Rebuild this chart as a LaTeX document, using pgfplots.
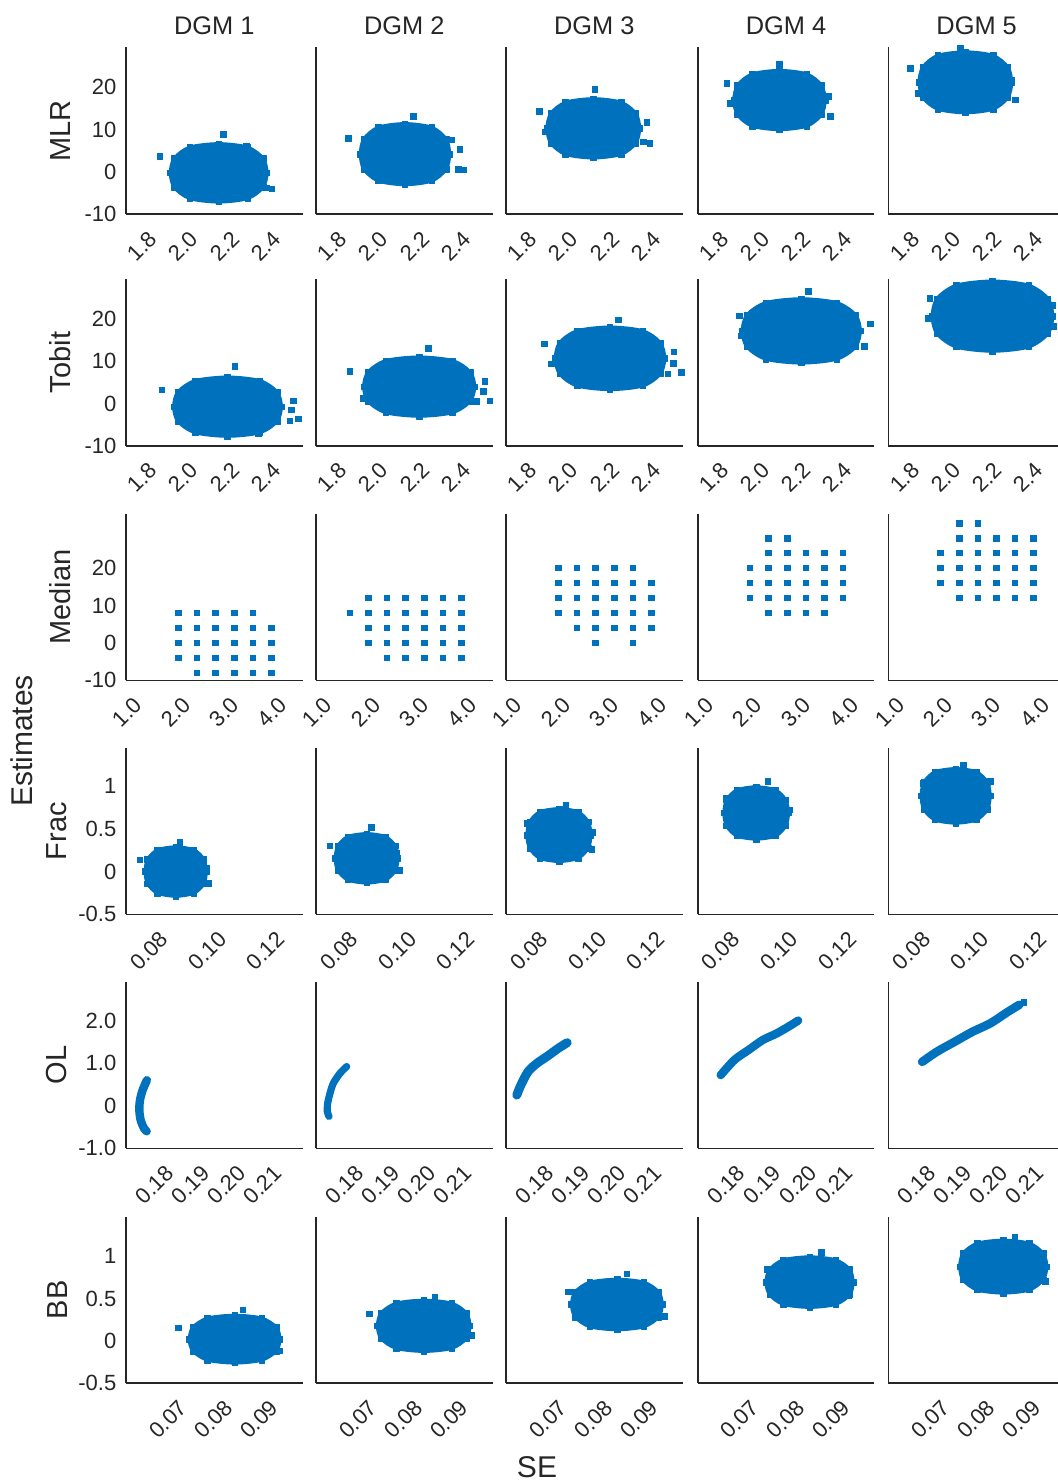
\documentclass[border=0pt]{standalone}
\usepackage{fontspec}
\setmainfont{Liberation Sans}
\usepackage{pgfplots}
\pgfplotsset{compat=1.18}

\definecolor{mblue}{RGB}{0,114,189}
\definecolor{axgray}{RGB}{38,38,38}

\newcommand\ticksize{\fontsize{11}{13}\selectfont}
\newcommand\labsize{\fontsize{14.5}{17}\selectfont}
\newcommand\titlesize{\fontsize{12.7}{15}\selectfont}
\newcommand\bigsize{\fontsize{15}{18}\selectfont}

\pgfplotsset{
  panel/.style={
    scale only axis, width=88.35pt, height=83.25pt,
    anchor=south west,
    axis lines*=left,
    axis line style={draw=axgray, line width=0.8pt, -},
    major tick length=0pt, tick style={draw=none},
    scaled ticks=false,
    clip=false,
    ticklabel style={font=\ticksize, text=axgray},
    xticklabel style={xshift=-1.5pt, yshift=-7.5pt, inner sep=0pt, anchor=north east, rotate=45},
    yticklabel style={inner sep=0pt, anchor=east, xshift=-4.65pt},
    ylabel style={font=\labsize, text=axgray, inner sep=0pt, anchor=south},
    every axis title shift=0pt,
    title style={font=\titlesize, text=axgray, inner sep=0pt, anchor=base, yshift=0pt,
                 at={(axis description cs:0.5,1.076)}},
  },
  rMLR/.style={panel, xmin=1.68, xmax=2.54, ymin=-10, ymax=29.45,
    xtick={1.8,2.0,2.2,2.4}, xticklabels={1.8,2.0,2.2,2.4}},
  rMed/.style={panel, xmin=0.80, xmax=4.458, ymin=-10, ymax=34.5,
    xtick={1,2,3,4}, xticklabels={1.0,2.0,3.0,4.0}},
  rFrac/.style={panel, xmin=0.0678, xmax=0.1284, ymin=-0.5, ymax=1.447,
    xtick={0.08,0.10,0.12}, xticklabels={0.08,0.10,0.12}},
  rOL/.style={panel, xmin=0.1686, xmax=0.2177, ymin=-1, ymax=2.91,
    xtick={0.18,0.19,0.20,0.21}, xticklabels={0.18,0.19,0.20,0.21}},
  rBB/.style={panel, xmin=0.058, xmax=0.0968, ymin=-0.5, ymax=1.47,
    xtick={0.07,0.08,0.09}, xticklabels={0.07,0.08,0.09}},
  yBig/.style={ytick={-10,0,10,20}, yticklabels={-10,0,10,20}},
  yHalf/.style={ytick={-0.5,0,0.5,1}, yticklabels={-0.5,0,0.5,1}},
  yOne/.style={ytick={-1,0,1,2}, yticklabels={-1.0,0,1.0,2.0}},
  noy/.style={ytick=\empty},
  labA/.style={ylabel style={at={(axis description cs:-0.311,0.5)}}},
  labB/.style={ylabel style={at={(axis description cs:-0.331,0.5)}}},
  cloud/.style={draw=mblue, fill=mblue, line width=1.6pt, line join=round, smooth cycle,
    mark=square*, mark size=1.4pt, mark options={line width=0.3pt, draw=mblue, fill=mblue}},
  pts/.style={only marks, mark=square*, mark size=1.4pt, draw=mblue, fill=mblue},
  band/.style={draw=mblue, line cap=round, line join=round, smooth},
}

\begin{document}
\begin{tikzpicture}
\useasboundingbox (0pt,-741.5pt) rectangle (528.5pt,0pt);

% ---------------- MLR ----------------
\begin{axis}[rMLR, yBig, labA, ylabel={MLR}, title={DGM 1}, at={(63pt,-107pt)}]
\addplot[cloud] coordinates {(2.366,-0.25) (2.347,3.20) (2.272,5.82) (2.131,6.65) (1.990,5.82) (1.915,3.20) (1.896,-0.25) (1.915,-3.70) (1.990,-6.32) (2.131,-7.15) (2.272,-6.32) (2.347,-3.70)};
\addplot[pts] coordinates {(1.845,3.58) (2.153,8.89) (2.340,3.34) (2.365,-3.77) (2.390,-4.08) (2.267,5.95)};
\end{axis}
\begin{axis}[rMLR, noy, title={DGM 2}, at={(158pt,-107pt)}]
\addplot[cloud] coordinates {(2.330,4.18) (2.313,7.79) (2.243,10.53) (2.113,11.40) (1.983,10.53) (1.913,7.79) (1.896,4.18) (1.913,0.57) (1.983,-2.17) (2.113,-3.04) (2.243,-2.17) (2.313,0.57)};
\addplot[pts] coordinates {(1.837,7.94) (2.153,13.06) (2.340,7.54) (2.381,5.33) (2.372,0.59) (2.397,0.43)};
\end{axis}
\begin{axis}[rMLR, noy, title={DGM 3}, at={(253pt,-107pt)}]
\addplot[cloud] coordinates {(2.330,10.3) (2.312,13.8) (2.240,16.46) (2.105,17.3) (1.970,16.46) (1.898,13.8) (1.880,10.3) (1.898,6.8) (1.970,4.14) (2.105,3.3) (2.240,4.14) (2.312,6.8)};
\addplot[pts] coordinates {(1.842,14.24) (2.113,19.55) (2.365,11.64) (2.348,7.13) (2.381,6.75) (1.870,9.5)};
\end{axis}
\begin{axis}[rMLR, noy, title={DGM 4}, at={(348.85pt,-107pt)}]
\addplot[cloud] coordinates {(2.300,17.0) (2.282,20.5) (2.211,23.16) (2.078,24.0) (1.945,23.16) (1.874,20.5) (1.856,17.0) (1.874,13.5) (1.945,10.84) (2.078,10.0) (2.211,10.84) (2.282,13.5)};
\addplot[pts] coordinates {(1.822,20.97) (2.078,25.55) (2.316,17.8) (2.325,13.06) (1.838,16.2)};
\end{axis}
\begin{axis}[rMLR, noy, title={DGM 5}, at={(444.15pt,-107pt)}]
\addplot[cloud] coordinates {(2.280,21.2) (2.262,24.8) (2.190,27.54) (2.055,28.4) (1.920,27.54) (1.848,24.8) (1.830,21.2) (1.848,17.6) (1.920,14.86) (2.055,14.0) (2.190,14.86) (2.262,17.6)};
\addplot[pts] coordinates {(1.787,24.5) (2.030,29.3) (2.298,17.0) (2.282,21.75) (1.827,18.6)};
\end{axis}

% ---------------- Tobit ----------------
\begin{axis}[rMLR, yBig, labA, ylabel={Tobit}, at={(63pt,-222.85pt)}]
\addplot[cloud] coordinates {(2.436,-0.75) (2.415,2.75) (2.331,5.41) (2.174,6.25) (2.017,5.41) (1.933,2.75) (1.912,-0.75) (1.933,-4.25) (2.017,-6.91) (2.174,-7.75) (2.331,-6.91) (2.415,-4.25)};
\addplot[pts] coordinates {(1.854,3.2) (2.210,8.72) (2.494,0.66) (2.486,-1.54) (2.478,-4.08) (2.518,-3.67) (2.324,-7.06)};
\end{axis}
\begin{axis}[rMLR, noy, at={(158pt,-222.85pt)}]
\addplot[cloud] coordinates {(2.452,4.0) (2.430,7.5) (2.344,10.16) (2.182,11.0) (2.020,10.16) (1.934,7.5) (1.912,4.0) (1.934,0.5) (2.020,-2.16) (2.182,-3.0) (2.344,-2.16) (2.430,0.5)};
\addplot[pts] coordinates {(1.845,7.54) (2.226,13.08) (2.502,5.17) (2.494,2.8) (2.527,0.66) (2.462,0.43) (1.910,1.23)};
\end{axis}
\begin{axis}[rMLR, noy, at={(253pt,-222.85pt)}]
\addplot[cloud] coordinates {(2.452,10.7) (2.431,14.4) (2.346,17.21) (2.186,18.1) (2.026,17.21) (1.941,14.4) (1.920,10.7) (1.941,7.0) (2.026,4.19) (2.186,3.3) (2.346,4.19) (2.431,7.0)};
\addplot[pts] coordinates {(1.867,14.1) (2.226,19.8) (2.533,7.39) (2.497,12.27) (2.495,9.53) (2.467,7.0) (1.900,9.36)};
\end{axis}
\begin{axis}[rMLR, noy, at={(348.85pt,-222.85pt)}]
\addplot[cloud] coordinates {(2.471,17.2) (2.448,21.0) (2.356,23.89) (2.184,24.8) (2.012,23.89) (1.920,21.0) (1.897,17.2) (1.920,13.4) (2.012,10.51) (2.184,9.6) (2.356,10.51) (2.448,13.4)};
\addplot[pts] coordinates {(1.884,20.8) (2.218,26.5) (2.521,18.84) (2.490,13.6) (1.890,16.0) (2.438,20.6)};
\end{axis}
\begin{axis}[rMLR, noy, at={(444.15pt,-222.85pt)}]
\addplot[cloud] coordinates {(2.480,20.7) (2.457,24.85) (2.363,28.0) (2.187,29.0) (2.011,28.0) (1.917,24.85) (1.894,20.7) (1.917,16.55) (2.011,13.4) (2.187,12.4) (2.363,13.4) (2.457,16.55)};
\addplot[pts] coordinates {(1.882,24.9) (1.873,20.2) (2.486,18.2) (2.478,23.3)};
\end{axis}

% ---------------- Median ----------------
\begin{axis}[rMed, yBig, labA, ylabel={Median}, at={(63pt,-340.15pt)}]
\addplot[pts] coordinates {
(1.883,8) (2.268,8) (2.653,8) (3.038,8) (3.423,8)
(1.883,4) (2.268,4) (2.653,4) (3.038,4) (3.423,4) (3.808,4)
(1.883,0) (2.268,0) (2.653,0) (3.038,0) (3.423,0) (3.808,0)
(1.883,-4) (2.268,-4) (2.653,-4) (3.038,-4) (3.423,-4) (3.808,-4)
(2.268,-8) (2.653,-8) (3.038,-8) (3.423,-8) (3.808,-8)};
\end{axis}
\begin{axis}[rMed, noy, at={(158pt,-340.15pt)}]
\addplot[pts] coordinates {
(1.883,12) (2.268,12) (2.653,12) (3.038,12) (3.423,12) (3.808,12)
(1.498,8) (1.883,8) (2.268,8) (2.653,8) (3.038,8) (3.423,8) (3.808,8)
(1.883,4) (2.268,4) (2.653,4) (3.038,4) (3.423,4) (3.808,4)
(1.883,0) (2.268,0) (2.653,0) (3.038,0) (3.423,0) (3.808,0)
(2.268,-4) (2.653,-4) (3.038,-4) (3.423,-4) (3.808,-4)};
\end{axis}
\begin{axis}[rMed, noy, at={(253pt,-340.15pt)}]
\addplot[pts] coordinates {
(1.883,20) (2.268,20) (2.653,20) (3.038,20) (3.423,20)
(1.883,16) (2.268,16) (2.653,16) (3.038,16) (3.423,16) (3.808,16)
(1.883,12) (2.268,12) (2.653,12) (3.038,12) (3.423,12) (3.808,12)
(1.883,8) (2.268,8) (2.653,8) (3.038,8) (3.423,8) (3.808,8)
(2.268,4) (2.653,4) (3.038,4) (3.423,4) (3.808,4)
(2.653,0) (3.423,0)};
\end{axis}
\begin{axis}[rMed, noy, at={(348.85pt,-340.15pt)}]
\addplot[pts] coordinates {
(2.268,28) (2.653,28)
(2.268,24) (2.653,24) (3.038,24) (3.423,24) (3.808,24)
(1.883,20) (2.268,20) (2.653,20) (3.038,20) (3.423,20) (3.808,20)
(1.883,16) (2.268,16) (2.653,16) (3.038,16) (3.423,16) (3.808,16)
(1.883,12) (2.268,12) (2.653,12) (3.038,12) (3.423,12) (3.808,12)
(2.268,8) (2.653,8) (3.038,8) (3.423,8)};
\end{axis}
\begin{axis}[rMed, noy, at={(444.15pt,-340.15pt)}]
\addplot[pts] coordinates {
(2.268,32) (2.653,32)
(2.268,28) (2.653,28) (3.038,28) (3.423,28) (3.808,28)
(1.883,24) (2.268,24) (2.653,24) (3.038,24) (3.423,24) (3.808,24)
(1.883,20) (2.268,20) (2.653,20) (3.038,20) (3.423,20) (3.808,20)
(1.883,16) (2.268,16) (2.653,16) (3.038,16) (3.423,16) (3.808,16)
(2.268,12) (2.653,12) (3.038,12) (3.423,12) (3.808,12)};
\end{axis}

% ---------------- Frac ----------------
\begin{axis}[rFrac, yHalf, labB, ylabel={Frac}, at={(63pt,-457.15pt)}]
\addplot[cloud] coordinates {(0.0953,0) (0.0945,0.144) (0.0911,0.253) (0.0849,0.288) (0.0786,0.253) (0.0752,0.144) (0.0744,0) (0.0752,-0.144) (0.0786,-0.253) (0.0849,-0.288) (0.0911,-0.253) (0.0945,-0.144)};
\addplot[pts] coordinates {(0.0726,0.135) (0.0863,0.342) (0.0960,-0.137) (0.0955,0.038)};
\end{axis}
\begin{axis}[rFrac, noy, at={(158pt,-457.15pt)}]
\addplot[cloud] coordinates {(0.0959,0.155) (0.0950,0.299) (0.0916,0.408) (0.0852,0.443) (0.0787,0.408) (0.0753,0.299) (0.0744,0.155) (0.0753,0.011) (0.0787,-0.098) (0.0852,-0.133) (0.0916,-0.098) (0.0950,0.011)};
\addplot[pts] coordinates {(0.0726,0.299) (0.0869,0.513) (0.0966,0.010) (0.0955,0.213)};
\end{axis}
\begin{axis}[rFrac, noy, at={(253pt,-457.15pt)}]
\addplot[cloud] coordinates {(0.0969,0.427) (0.0960,0.581) (0.0925,0.698) (0.0860,0.735) (0.0794,0.698) (0.0759,0.581) (0.0750,0.427) (0.0759,0.273) (0.0794,0.156) (0.0860,0.119) (0.0925,0.156) (0.0960,0.273)};
\addplot[pts] coordinates {(0.0752,0.564) (0.0883,0.778) (0.0972,0.260) (0.0976,0.459)};
\end{axis}
\begin{axis}[rFrac, noy, at={(348.85pt,-457.15pt)}]
\addplot[cloud] coordinates {(0.0989,0.685) (0.0980,0.837) (0.0945,0.953) (0.0879,0.990) (0.0812,0.953) (0.0777,0.837) (0.0768,0.685) (0.0777,0.533) (0.0812,0.417) (0.0879,0.380) (0.0945,0.417) (0.0980,0.533)};
\addplot[pts] coordinates {(0.0775,0.857) (0.0919,1.051) (0.0992,0.720)};
\end{axis}
\begin{axis}[rFrac, noy, at={(444.15pt,-457.15pt)}]
\addplot[cloud] coordinates {(0.1027,0.885) (0.1018,1.044) (0.0980,1.165) (0.0909,1.203) (0.0838,1.165) (0.0800,1.044) (0.0791,0.885) (0.0800,0.726) (0.0838,0.605) (0.0909,0.567) (0.0980,0.605) (0.1018,0.726)};
\addplot[pts] coordinates {(0.0796,1.032) (0.0936,1.238) (0.1028,1.051)};
\end{axis}

% ---------------- OL ----------------
\begin{axis}[rOL, yOne, labB, ylabel={OL}, at={(63pt,-574.15pt)}]
\addplot[band, line width=4.2pt] coordinates {(0.17440,0.60) (0.17323,0.369) (0.17249,0.134) (0.17230,-0.101) (0.17267,-0.336) (0.17360,-0.531) (0.17434,-0.60)};
\end{axis}
\begin{axis}[rOL, noy, at={(158pt,-574.15pt)}]
\addplot[band, line width=3.6pt] coordinates {(0.17712,0.92) (0.17527,0.761) (0.17341,0.526) (0.17249,0.291) (0.17184,0.056) (0.17175,-0.141) (0.17221,-0.25)};
\end{axis}
\begin{axis}[rOL, noy, at={(253pt,-574.15pt)}]
\addplot[band, line width=4.5pt] coordinates {(0.17160,0.25) (0.17274,0.486) (0.17471,0.798) (0.17718,0.995) (0.18016,1.167) (0.18310,1.347) (0.18560,1.48)};
\end{axis}
\begin{axis}[rOL, noy, at={(348.85pt,-574.15pt)}]
\addplot[band, line width=4.2pt] coordinates {(0.17500,0.72) (0.17877,1.073) (0.18271,1.308) (0.18666,1.542) (0.19060,1.70) (0.19454,1.894) (0.19650,2.0)};
\end{axis}
\begin{axis}[rOL, noy, at={(444.15pt,-574.15pt)}]
\addplot[band, line width=4.3pt] coordinates {(0.17800,1.03) (0.18210,1.268) (0.18704,1.502) (0.19199,1.737) (0.19691,1.934) (0.20185,2.207) (0.20500,2.37)};
\addplot[pts] coordinates {(0.2063,2.42)};
\end{axis}

% ---------------- BB ----------------
\begin{axis}[rBB, yHalf, labB, ylabel={BB}, at={(63pt,-691.5pt)}]
\addplot[cloud] coordinates {(0.0918,0.019) (0.0910,0.160) (0.0878,0.267) (0.0819,0.301) (0.0759,0.267) (0.0727,0.160) (0.0719,0.019) (0.0727,-0.122) (0.0759,-0.229) (0.0819,-0.263) (0.0878,-0.229) (0.0910,-0.122)};
\addplot[pts] coordinates {(0.06956,0.154) (0.08365,0.364) (0.0918,-0.118)};
\end{axis}
\begin{axis}[rBB, noy, at={(158pt,-691.5pt)}]
\addplot[cloud] coordinates {(0.0918,0.177) (0.0910,0.328) (0.0878,0.443) (0.0817,0.479) (0.0756,0.443) (0.0723,0.328) (0.0715,0.177) (0.0723,0.026) (0.0756,-0.089) (0.0817,-0.125) (0.0878,-0.089) (0.0910,0.026)};
\addplot[pts] coordinates {(0.06974,0.317) (0.08411,0.521) (0.09226,0.060)};
\end{axis}
\begin{axis}[rBB, noy, at={(253pt,-691.5pt)}]
\addplot[cloud] coordinates {(0.0923,0.429) (0.0915,0.578) (0.0883,0.691) (0.0824,0.727) (0.0764,0.691) (0.0732,0.578) (0.0724,0.429) (0.0732,0.280) (0.0764,0.167) (0.0824,0.131) (0.0883,0.167) (0.0915,0.280)};
\addplot[pts] coordinates {(0.07169,0.580) (0.08457,0.790) (0.09272,0.285)};
\end{axis}
\begin{axis}[rBB, noy, at={(348.85pt,-691.5pt)}]
\addplot[cloud] coordinates {(0.0921,0.694) (0.0914,0.843) (0.0883,0.956) (0.0826,0.992) (0.0768,0.956) (0.0738,0.843) (0.0730,0.694) (0.0738,0.545) (0.0768,0.432) (0.0826,0.396) (0.0883,0.432) (0.0914,0.545)};
\addplot[pts] coordinates {(0.07316,0.846) (0.08516,1.042) (0.09108,0.530)};
\end{axis}
\begin{axis}[rBB, noy, at={(444.15pt,-691.5pt)}]
\addplot[cloud] coordinates {(0.0928,0.877) (0.0920,1.033) (0.0890,1.152) (0.0832,1.189) (0.0775,1.152) (0.0744,1.033) (0.0737,0.877) (0.0744,0.721) (0.0775,0.602) (0.0832,0.565) (0.0890,0.602) (0.0920,0.721)};
\addplot[pts] coordinates {(0.07442,1.027) (0.08582,1.224) (0.09248,0.699)};
\end{axis}

% shared labels
\node[rotate=90, font=\bigsize, text=axgray, inner sep=0pt] at (11pt,-370.5pt) {Estimates};
\node[font=\bigsize, text=axgray, inner sep=0pt] at (268.5pt,-733.75pt) {SE};
\end{tikzpicture}
\end{document}
